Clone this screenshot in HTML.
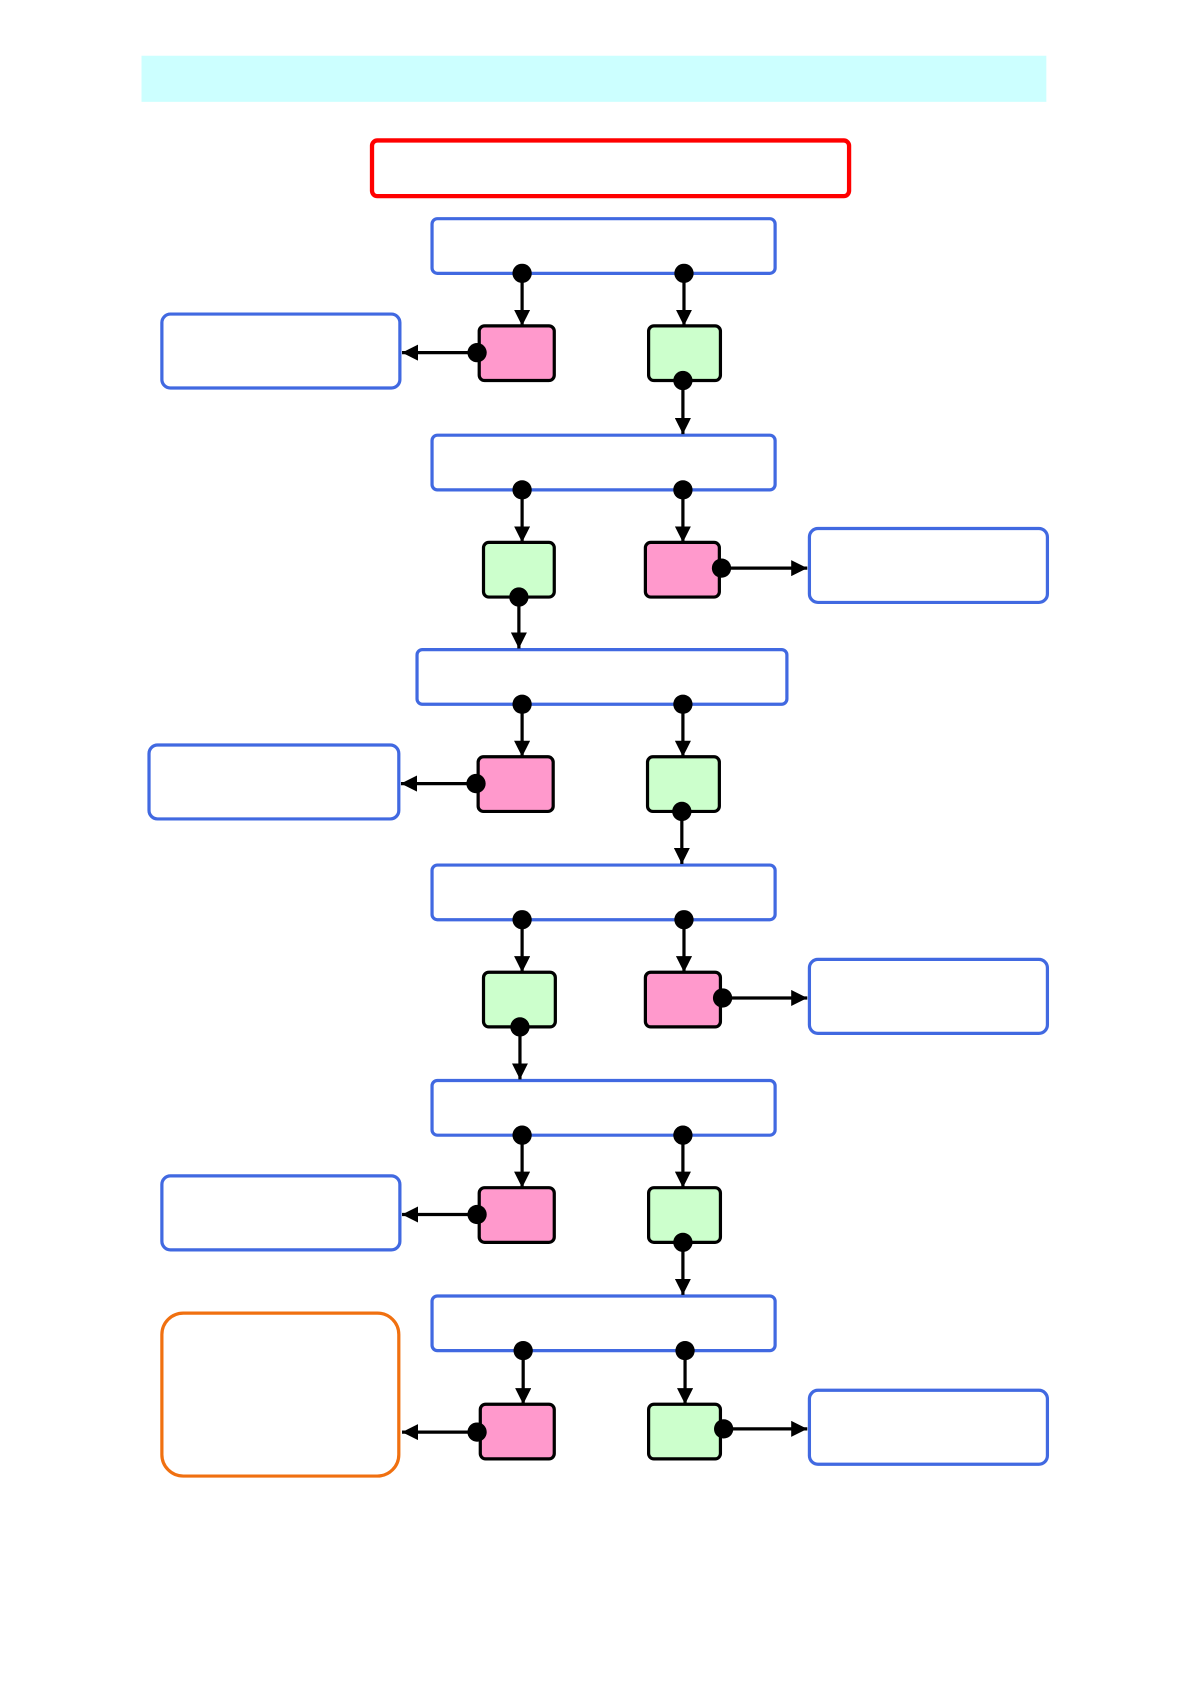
<!DOCTYPE html>
<html><head><meta charset="utf-8"><style>html,body{margin:0;padding:0;background:#fff}svg{display:block}</style></head>
<body>
<svg width="1190" height="1684" viewBox="0 0 1110 1571" preserveAspectRatio="none" xmlns="http://www.w3.org/2000/svg">
<defs>
<marker id="a" viewBox="0 0 10 10" refX="10" refY="5" markerWidth="5" markerHeight="5" markerUnits="strokeWidth" orient="auto"><path d="M0,0L10,5L0,10z" fill="#000"/></marker>
</defs>
<rect x="132" y="52" width="844" height="43" fill="#ccffff"/>
<rect x="347" y="131" width="445" height="52" rx="5" fill="#fff" stroke="#ff0000" stroke-width="4"/>
<g fill="#fff" stroke="#4169e1" stroke-width="3">
<rect x="403" y="204" width="320" height="51" rx="5"/>
<rect x="403" y="406" width="320" height="51" rx="5"/>
<rect x="389" y="606" width="345" height="51" rx="5"/>
<rect x="403" y="807" width="320" height="51" rx="5"/>
<rect x="403" y="1008" width="320" height="51" rx="5"/>
<rect x="403" y="1209" width="320" height="51" rx="5"/>
<rect x="151" y="293" width="222" height="69" rx="8"/>
<rect x="139" y="695" width="233" height="69" rx="8"/>
<rect x="151" y="1097" width="222" height="69" rx="8"/>
<rect x="755" y="493" width="222" height="69" rx="8"/>
<rect x="755" y="895" width="222" height="69" rx="8"/>
<rect x="755" y="1297" width="222" height="69" rx="8"/>
</g>
<rect x="151" y="1225" width="221" height="152" rx="20" fill="#fff" stroke="#f07010" stroke-width="3"/>
<g stroke="#000" stroke-width="3">
<rect x="447" y="304" width="70" height="51" rx="5" fill="#ff99cc"/>
<rect x="605" y="304" width="67" height="51" rx="5" fill="#ccffcc"/>
<rect x="451" y="506" width="66" height="51" rx="5" fill="#ccffcc"/>
<rect x="602" y="506" width="69" height="51" rx="5" fill="#ff99cc"/>
<rect x="446" y="706" width="70" height="51" rx="5" fill="#ff99cc"/>
<rect x="604" y="706" width="67" height="51" rx="5" fill="#ccffcc"/>
<rect x="451" y="907" width="67" height="51" rx="5" fill="#ccffcc"/>
<rect x="602" y="907" width="70" height="51" rx="5" fill="#ff99cc"/>
<rect x="447" y="1108" width="70" height="51" rx="5" fill="#ff99cc"/>
<rect x="605" y="1108" width="67" height="51" rx="5" fill="#ccffcc"/>
<rect x="448" y="1310" width="69" height="51" rx="5" fill="#ff99cc"/>
<rect x="605" y="1310" width="67" height="51" rx="5" fill="#ccffcc"/>
</g>
<g stroke="#000" stroke-width="3" marker-end="url(#a)">
<line x1="487" y1="255" x2="487" y2="304"/><line x1="638" y1="255" x2="638" y2="304"/>
<line x1="445" y1="329" x2="375" y2="329"/><line x1="637" y1="355" x2="637" y2="405"/>
<line x1="487" y1="457" x2="487" y2="506"/><line x1="637" y1="457" x2="637" y2="506"/>
<line x1="673" y1="530" x2="753" y2="530"/><line x1="484" y1="557" x2="484" y2="605"/>
<line x1="487" y1="657" x2="487" y2="706"/><line x1="637" y1="657" x2="637" y2="706"/>
<line x1="444" y1="731" x2="374" y2="731"/><line x1="636" y1="757" x2="636" y2="806"/>
<line x1="487" y1="858" x2="487" y2="907"/><line x1="638" y1="858" x2="638" y2="907"/>
<line x1="674" y1="931" x2="753" y2="931"/><line x1="485" y1="958" x2="485" y2="1007"/>
<line x1="487" y1="1059" x2="487" y2="1108"/><line x1="637" y1="1059" x2="637" y2="1108"/>
<line x1="445" y1="1133" x2="375" y2="1133"/><line x1="637" y1="1159" x2="637" y2="1208"/>
<line x1="488" y1="1260" x2="488" y2="1310"/><line x1="639" y1="1260" x2="639" y2="1310"/>
<line x1="445" y1="1336" x2="375" y2="1336"/><line x1="675" y1="1333" x2="753" y2="1333"/>
</g>
<g fill="#000">
<circle cx="487" cy="255" r="9"/><circle cx="638" cy="255" r="9"/><circle cx="445" cy="329" r="9"/><circle cx="637" cy="355" r="9"/>
<circle cx="487" cy="457" r="9"/><circle cx="637" cy="457" r="9"/><circle cx="673" cy="530" r="9"/><circle cx="484" cy="557" r="9"/>
<circle cx="487" cy="657" r="9"/><circle cx="637" cy="657" r="9"/><circle cx="444" cy="731" r="9"/><circle cx="636" cy="757" r="9"/>
<circle cx="487" cy="858" r="9"/><circle cx="638" cy="858" r="9"/><circle cx="674" cy="931" r="9"/><circle cx="485" cy="958" r="9"/>
<circle cx="487" cy="1059" r="9"/><circle cx="637" cy="1059" r="9"/><circle cx="445" cy="1133" r="9"/><circle cx="637" cy="1159" r="9"/>
<circle cx="488" cy="1260" r="9"/><circle cx="639" cy="1260" r="9"/><circle cx="445" cy="1336" r="9"/><circle cx="675" cy="1333" r="9"/>
</g>
</svg>
</body></html>
